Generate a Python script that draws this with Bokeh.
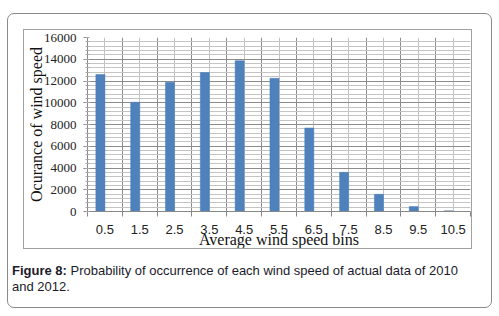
from bokeh.plotting import figure
from bokeh.models import (ColumnDataSource, Range1d, FixedTicker, SingleIntervalTicker, Div)
from bokeh.layouts import column
from bokeh.transform import dodge
from bokeh.embed import file_html
from bokeh.resources import INLINE

# ---- data ----
bins = [0.5, 1.5, 2.5, 3.5, 4.5, 5.5, 6.5, 7.5, 8.5, 9.5, 10.5]
tick_labels = ["0.5", "1.5", "2.5", "3.5", "4.5", "5.5", "6.5", "7.5", "8.5", "9.5", "10.5"]
counts = [12600, 10050, 11880, 12780, 13870, 12250, 7680, 3600, 1580, 450, 60]
bin_edges = [0, 1, 2, 3, 4, 5, 6, 7, 8, 9, 10, 11]
y_title = "Ocurance of wind speed"
x_title = "Average wind speed bins"
caption_bold = "Figure 8:"
caption_line1 = "Probability of occurrence of each wind speed of actual data of 2010"
caption_line2 = "and 2012."

src = ColumnDataSource(dict(bin=bins, count=counts))

p = figure(width=449, height=220, output_backend="svg", toolbar_location=None,
           x_range=Range1d(0, 11), y_range=Range1d(0, 16000),
           min_border_left=60, min_border_right=3, min_border_top=7, min_border_bottom=38,
           margin=(15, 0, 0, 15),
           styles={"border": "1px solid #a0a0a0"})
p.background_fill_color = "white"
p.border_fill_color = "white"
p.outline_line_color = None

p.vbar(x=dodge("bin", -0.13, range=p.x_range), top="count", width=0.26, source=src,
       fill_color="#4f81bd", line_color="#4a7cb8", line_width=0.5)

# x axis
xt = FixedTicker(ticks=bins, minor_ticks=bin_edges)
p.xaxis.ticker = xt
p.xaxis.major_label_overrides = {b: t for b, t in zip(bins, tick_labels)}
p.xaxis.major_tick_out = 0
p.xaxis.major_tick_in = 0
p.xaxis.minor_tick_out = 5
p.xaxis.minor_tick_in = 0
p.xaxis.axis_line_color = "#888888"
p.xaxis.minor_tick_line_color = "#888888"
p.xaxis.major_label_standoff = 8
p.xaxis.major_label_text_font = "Liberation Sans"
p.xaxis.major_label_text_font_size = "13px"
p.xaxis.major_label_text_color = "#222222"
p.xaxis.axis_label = x_title
p.xaxis.axis_label_standoff = -6
p.xaxis.axis_label_text_font = "Liberation Serif"
p.xaxis.axis_label_text_font_style = "normal"
p.xaxis.axis_label_text_font_size = "16px"
p.xaxis.axis_label_text_color = "#111111"

# y axis
yt = SingleIntervalTicker(interval=2000, num_minor_ticks=5)
p.yaxis.ticker = yt
p.yaxis.major_tick_out = 4
p.yaxis.major_tick_in = 0
p.yaxis.minor_tick_out = 2
p.yaxis.minor_tick_in = 2
p.yaxis.axis_line_color = "#888888"
p.yaxis.major_tick_line_color = "#888888"
p.yaxis.minor_tick_line_color = "#aaaaaa"
p.yaxis.major_label_standoff = 7
p.yaxis.major_label_text_font = "Liberation Serif"
p.yaxis.major_label_text_font_size = "13px"
p.yaxis.major_label_text_color = "#222222"
p.yaxis.axis_label = y_title
p.yaxis.axis_label_standoff = -4
p.yaxis.axis_label_text_font = "Liberation Serif"
p.yaxis.axis_label_text_font_style = "normal"
p.yaxis.axis_label_text_font_size = "16px"
p.yaxis.axis_label_text_color = "#111111"

# grids
p.xgrid.ticker = xt
p.xgrid.grid_line_color = "#c2c2c2"
p.xgrid.minor_grid_line_color = "#8c8c8c"
p.ygrid.ticker = yt
p.ygrid.grid_line_color = "#8c8c8c"
p.ygrid.minor_grid_line_color = "#c4c4c4"

caption_html = (
    '<div style="text-align: justify; text-align-last: justify;">'
    f"<b>{caption_bold}</b> {caption_line1}</div>"
    f"<div>{caption_line2}</div>"
)
caption = Div(text=caption_html, width=475, height=40,
              margin=(14, 0, 0, 4),
              styles={"font-family": "'Liberation Sans', Arial, sans-serif",
                      "font-size": "13px", "line-height": "16px", "color": "#1a1a2a"})

layout = column(p, caption, width=485, height=295, margin=(13, 0, 0, 7),
                styles={"border": "1px solid #8a8a8a", "border-radius": "7px",
                        "box-sizing": "border-box"})

open("out.html", "w").write(file_html(layout, INLINE))
